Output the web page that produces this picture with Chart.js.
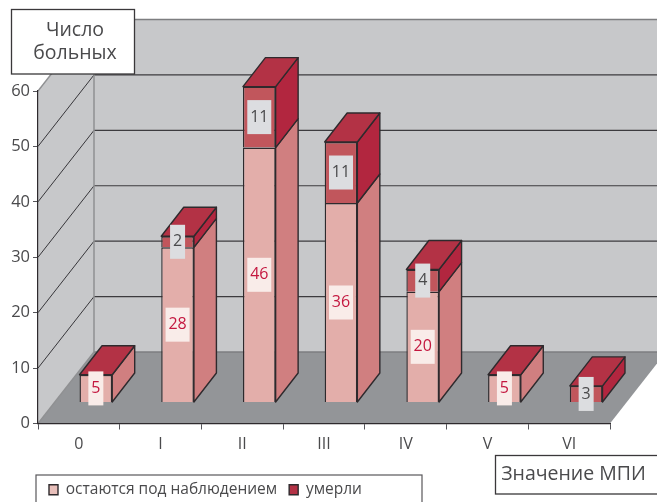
<!DOCTYPE html>
<html lang="ru">
<head>
<meta charset="utf-8">
<title>Число больных по значению МПИ</title>
<style>
  html, body { margin: 0; padding: 0; background: #fff; }
  #chart { display: block; }
</style>
<script src="https://cdn.jsdelivr.net/npm/chart.js@4/dist/chart.umd.js"></script>
</head>
<body>
<canvas id="chart" width="657" height="502"></canvas>
<script>
// Chart data
const categories = ['0', 'I', 'II', 'III', 'IV', 'V', 'VI'];
const observed = [5, 28, 46, 36, 20, 5, 0];
const deceased = [0, 2, 11, 11, 4, 0, 3];
const observedName = 'остаются под наблюдением';
const deceasedName = 'умерли';
const yAxisTitle = ['Число', 'больных'];
const xAxisTitle = 'Значение МПИ';

// Faux-3D geometry
const WALL_DX = 56, WALL_DY = 71.5;
const BAR_SHIFT_X = 17, BAR_SHIFT_Y = -21;
const BAR_DX = 22.5, BAR_DY = 29;
const INK = '#2e2a2d', TEXT = '#4a4a4c', FONT = '"Open Sans", sans-serif';
const OUTLINE = 1.4;

const faces = {
  observed: { front: '#e3aeaa', side: '#d07f80', swatch: '#e8bfba' },
  deceased: { front: '#c1565c', side: '#b2263f', top: '#b33245', swatch: '#b33245' }
};

function poly(ctx, pts, fill, stroke, width) {
  ctx.beginPath();
  pts.forEach((p, i) => (i ? ctx.lineTo(p[0], p[1]) : ctx.moveTo(p[0], p[1])));
  ctx.closePath();
  if (fill) { ctx.fillStyle = fill; ctx.fill(); }
  if (stroke) { ctx.strokeStyle = stroke; ctx.lineWidth = width || 1; ctx.lineJoin = 'round'; ctx.stroke(); }
}

function line(ctx, x1, y1, x2, y2, color, width) {
  ctx.beginPath();
  ctx.moveTo(x1, y1);
  ctx.lineTo(x2, y2);
  ctx.strokeStyle = color;
  ctx.lineWidth = width;
  ctx.stroke();
}

function labelBox(ctx, lines, left, top, right, bottom, size, cx) {
  ctx.fillStyle = '#fff';
  ctx.fillRect(left, top, right - left, bottom - top);
  ctx.strokeStyle = '#3a383a';
  ctx.lineWidth = 1.3;
  ctx.strokeRect(left, top, right - left, bottom - top);
  ctx.fillStyle = TEXT;
  ctx.font = size + 'px ' + FONT;
  ctx.textAlign = 'center';
  ctx.textBaseline = 'middle';
  const cy = (top + bottom) / 2;
  const step = 23;
  lines.forEach((t, i) => ctx.fillText(t, cx, cy + (i - (lines.length - 1) / 2) * step));
}

// Walls, floor and the legend frame, laid out behind the axes
const roomPlugin = {
  id: 'room',
  beforeDraw(chart) {
    const { ctx, scales: { x, y } } = chart;
    const xL = x.left, xR = x.right, y0 = y.getPixelForValue(0), yTop = y.getPixelForValue(60);
    const W = chart.width;
    ctx.save();
    poly(ctx, [[xL + WALL_DX, yTop - WALL_DY], [W + 5, yTop - WALL_DY], [W + 5, y0 - WALL_DY], [xL + WALL_DX, y0 - WALL_DY]], '#c7c8ca');
    poly(ctx, [[xL, yTop], [xL + WALL_DX, yTop - WALL_DY], [xL + WALL_DX, y0 - WALL_DY], [xL, y0]], '#c7c8ca');
    poly(ctx, [[xL, y0], [xL + WALL_DX, y0 - WALL_DY], [xR + WALL_DX, y0 - WALL_DY], [xR, y0]], '#939598');
    y.ticks.forEach(t => {
      const py = y.getPixelForValue(t.value);
      const edge = t.value === 0 || t.value === 60;
      const col = edge ? '#8f9092' : '#37363a';
      line(ctx, xL + WALL_DX, py - WALL_DY, W + 5, py - WALL_DY, edge ? '#7d7e80' : '#3c3b3e', edge ? 1.4 : 1.2);
      line(ctx, xL, py, xL + WALL_DX, py - WALL_DY, col, edge ? 1.4 : 1);
    });
    line(ctx, xL + WALL_DX, yTop - WALL_DY, xL + WALL_DX, y0 - WALL_DY, '#8f9092', 1.5);
    ctx.strokeStyle = '#59585b';
    ctx.lineWidth = 1.2;
    ctx.strokeRect(36, 475, 386, 40);
    ctx.restore();
  }
};

// Side and top faces of each stacked bar, then the value labels
const prismPlugin = {
  id: 'prism',
  beforeDatasetsDraw(chart) {
    const { ctx } = chart;
    ctx.save();
    ctx.translate(BAR_SHIFT_X, BAR_SHIFT_Y);
    const lower = chart.getDatasetMeta(0).data;
    const upper = chart.getDatasetMeta(1).data;
    [lower, upper].forEach((bars, d) => {
      const f = d ? faces.deceased : faces.observed;
      bars.forEach(b => {
        if (b.base === b.y) return;
        const r = b.x + b.width / 2;
        poly(ctx, [[r, b.y], [r, b.base], [r + BAR_DX, b.base - BAR_DY], [r + BAR_DX, b.y - BAR_DY]], f.side, INK, OUTLINE);
      });
    });
    upper.forEach(b => {
      const l = b.x - b.width / 2, r = b.x + b.width / 2;
      poly(ctx, [[l, b.y], [r, b.y], [r + BAR_DX, b.y - BAR_DY], [l + BAR_DX, b.y - BAR_DY]], faces.deceased.top, INK, OUTLINE);
    });
  },
  afterDatasetsDraw(chart) {
    const { ctx } = chart;
    ctx.font = '16px ' + FONT;
    ctx.textAlign = 'center';
    ctx.textBaseline = 'middle';
    chart.data.datasets.forEach((ds, d) => {
      chart.getDatasetMeta(d).data.forEach((b, i) => {
        const v = ds.data[i];
        if (!v) return;
        const w = v > 9 ? 24 : 15, h = 34;
        const cy = (b.y + b.base) / 2;
        ctx.fillStyle = d ? '#dcdde0' : '#f9ece9';
        ctx.fillRect(b.x - w / 2, cy - h / 2, w, h);
        ctx.fillStyle = d ? '#4a4a4c' : '#c4173f';
        ctx.fillText(String(v), b.x, cy);
      });
    });
    ctx.restore();
  },
  afterLayout(chart) {
    const lg = chart.legend;
    lg.left = 37;
    lg.right = 422;
    lg.top = 470;
    lg.bottom = 512;
  },
  afterDraw(chart) {
    const { ctx } = chart;
    ctx.save();
    labelBox(ctx, yAxisTitle, 11.5, 9.5, 134.5, 74, 19.5, 75);
    labelBox(ctx, [xAxisTitle], 495.5, 455.5, 662, 494, 19.5, 573.5);
    ctx.restore();
  }
};

new Chart(document.getElementById('chart'), {
  type: 'bar',
  data: {
    labels: categories,
    datasets: [
      { label: observedName, data: observed, backgroundColor: faces.observed.front, borderColor: INK, borderWidth: OUTLINE, clip: false },
      { label: deceasedName, data: deceased, backgroundColor: faces.deceased.front, borderColor: INK, borderWidth: OUTLINE, clip: false }
    ]
  },
  plugins: [roomPlugin, prismPlugin],
  options: {
    responsive: false,
    animation: false,
    devicePixelRatio: 1,
    barPercentage: 0.4,
    categoryPercentage: 1,
    layout: { padding: { top: 91, right: 47, left: 0, bottom: 0 } },
    plugins: {
      tooltip: { enabled: false },
      title: { display: false },
      legend: {
        display: true,
        position: 'bottom',
        align: 'start',
        fullSize: false,
        labels: {
          boxWidth: 9,
          boxHeight: 10,
          padding: 12,
          color: TEXT,
          font: { family: FONT, size: 15.5 },
          generateLabels(chart) {
            return Chart.defaults.plugins.legend.labels.generateLabels(chart).map((item, i) => {
              item.fillStyle = i ? faces.deceased.swatch : faces.observed.swatch;
              return item;
            });
          }
        }
      }
    },
    scales: {
      x: {
        stacked: true,
        afterFit(s) { s.height = 41; },
        grid: { drawOnChartArea: false, drawTicks: true, tickLength: 6, color: '#55555a', lineWidth: 1 },
        border: { color: INK, width: 1.2 },
        ticks: { color: TEXT, font: { family: FONT, size: 16 }, padding: 5, maxRotation: 0, autoSkip: false }
      },
      y: {
        stacked: true,
        min: 0,
        max: 60,
        afterFit(s) { s.width = 38; },
        grid: { drawOnChartArea: false, drawTicks: true, tickLength: 5, color: '#55555a', lineWidth: 1 },
        border: { color: INK, width: 1.2 },
        ticks: { color: TEXT, stepSize: 10, font: { family: FONT, size: 16.5 }, padding: 3 }
      }
    }
  }
});
</script>
</body>
</html>
